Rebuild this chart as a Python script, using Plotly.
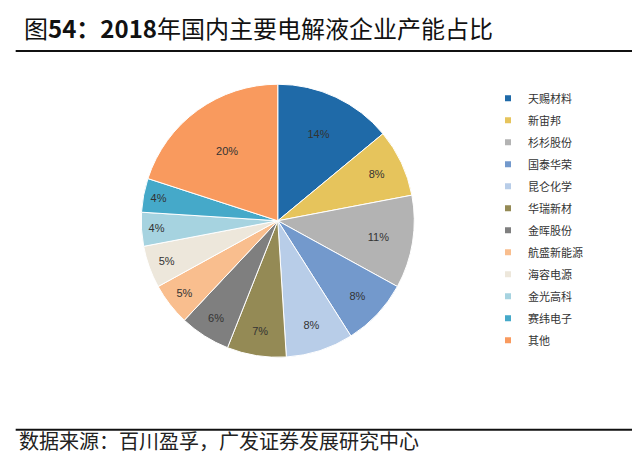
import plotly.graph_objects as go

# 2018年国内主要电解液企业产能占比
companies = ["天赐材料", "新宙邦", "杉杉股份", "国泰华荣", "昆仑化学", "华瑞新材",
             "金晖股份", "航盛新能源", "海容电源", "金光高科", "赛纬电子", "其他"]
shares = [14, 8, 11, 8, 8, 7, 6, 5, 5, 4, 4, 20]
colors = ["#1f6aa8", "#e6c45c", "#b3b3b3", "#7399cc", "#b8cde8", "#948a55",
          "#7f7f7f", "#f9be8e", "#ede7db", "#a6d3e0", "#45a9c9", "#f99a5e"]

fig = go.Figure(go.Pie(
    labels=companies, values=shares, sort=False, direction="clockwise", rotation=0,
    marker=dict(colors=colors, line=dict(color="white", width=1)),
    texttemplate="%{value}%", textposition="inside",
    insidetextorientation="horizontal",
    textfont=dict(size=11, color="#333333", family="Arial"),
    domain=dict(x=[0.2075, 0.6355], y=[0.244, 0.835]),
    showlegend=False,
))

# legend entries, small squares like the original
for name, c in zip(companies, colors):
    fig.add_trace(go.Scatter(x=[None], y=[None], mode="markers", name=name, legendgroup=name,
                             marker=dict(symbol="square", size=6, color=c)))

fig.update_layout(
    width=640, height=462,
    margin=dict(l=0, r=0, t=0, b=0),
    paper_bgcolor="white", plot_bgcolor="white",
    font=dict(family="Noto Sans CJK SC"),
    xaxis=dict(visible=False), yaxis=dict(visible=False),
    legend=dict(x=0.75, y=0.836, xanchor="left", yanchor="top",
                font=dict(size=11, color="#333333", family="Noto Sans CJK SC"),
                itemwidth=30, tracegroupgap=3),
    uniformtext=dict(minsize=8, mode="show"),
)

fig.add_annotation(x=0.022, y=1.0, xref="paper", yref="paper", xanchor="left", yanchor="top",
                   text="图<b>54：2018</b>年国内主要电解液企业产能占比", showarrow=False,
                   font=dict(size=24, color="#111111", family="Noto Sans CJK SC"))
fig.add_annotation(x=0.014, y=0.064, xref="paper", yref="paper", xanchor="left", yanchor="middle",
                   text="数据来源：百川盈孚，广发证券发展研究中心", showarrow=False,
                   font=dict(size=20, color="#222222", family="Noto Sans CJK SC"))
fig.add_shape(type="line", xref="paper", yref="paper", x0=0.012, x1=0.988, y0=0.907, y1=0.907,
              line=dict(color="#111111", width=2))
fig.add_shape(type="line", xref="paper", yref="paper", x0=0.012, x1=0.988, y0=0.087, y1=0.087,
              line=dict(color="#111111", width=2))

fig.write_html("out.html")
